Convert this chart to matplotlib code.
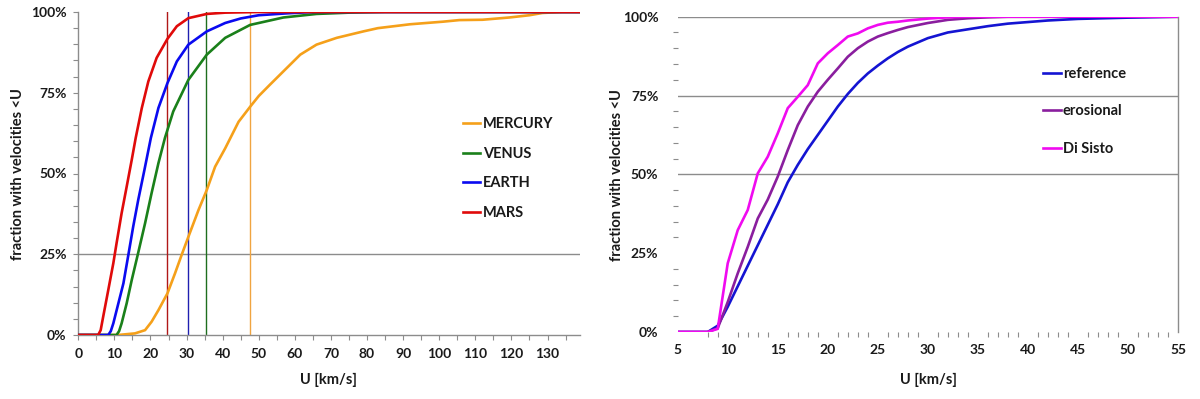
import matplotlib
matplotlib.use("Agg")
import matplotlib.pyplot as plt
from matplotlib.ticker import FixedLocator, FuncFormatter

plt.rcParams['font.family'] = ['Lato', 'DejaVu Sans']

# ---------------- left panel data ----------------
planets = ["MERCURY", "VENUS", "EARTH", "MARS"]
planet_colors = ["#F5A01A", "#1A801A", "#0A0AF0", "#E00A0A"]
mean_line_colors = ["#F0A440", "#1E6E1E", "#2020B0", "#B01818"]
mean_speeds = [47.7, 35.5, 30.5, 24.7]

mercury_u = [0, 11, 15.7, 18.5, 20.3, 22.2, 24.7, 26.8, 28.7, 30.5, 33.3, 35.6, 37.9, 40.7,
             44.4, 47.7, 50, 53.1, 56.8, 61.5, 66, 71.6, 79, 83, 91.9, 101, 105.6, 112,
             119.4, 125, 128.6, 134, 139]
mercury_p = [0, 0, 0.5, 1.5, 4.1, 7.7, 12.9, 19.1, 25, 30.4, 38.7, 44.9, 52.1, 57.8,
             66, 70.8, 74, 77.5, 81.6, 86.8, 89.9, 92, 94, 95, 96.2, 97, 97.5, 97.6,
             98.3, 99, 99.7, 100, 100]

venus_u = [0, 10.6, 11.3, 12.0, 13.4, 14.8, 16.5, 18.5, 20.3, 22.2, 24.0, 26.3, 30.5, 35.6,
           40.7, 47.6, 56.8, 66, 75, 85, 139]
venus_p = [0, 0, 1.2, 3.6, 9.8, 17, 25, 34.6, 43.9, 53.2, 61, 69.2, 79, 86.8,
           92, 96, 98.3, 99.4, 99.8, 100, 100]

earth_u = [0, 8.3, 9.0, 9.7, 11.1, 12.5, 13.9, 15.2, 16.6, 18.3, 20.1, 22.2, 24.7, 27.3,
           30.5, 35.6, 40.7, 45, 50, 58, 65, 139]
earth_p = [0, 0, 1.2, 3.6, 9.8, 16, 25, 33.5, 41.8, 51, 61, 70.3, 78, 84.7,
           89.9, 94, 96.6, 98, 99, 99.6, 100, 100]

mars_u = [0, 5.5, 6.2, 6.9, 8.3, 9.7, 10.6, 12.0, 13.4, 14.8, 15.9, 17.6, 19.4, 21.7,
          24.7, 27.3, 30.5, 35.6, 40.7, 50, 60, 139]
mars_p = [0, 0, 1.5, 5.7, 13.9, 22.2, 28.4, 37.7, 45.9, 54.2, 61, 70.3, 78.5, 85.8,
          91.7, 95.6, 98.1, 99.4, 99.8, 100, 100, 100]

planet_u = [mercury_u, venus_u, earth_u, mars_u]
planet_p = [mercury_p, venus_p, earth_p, mars_p]

# ---------------- right panel data ----------------
models = ["reference", "erosional", "Di Sisto"]
model_colors = ["#1414D2", "#8A1E9E", "#F00AF0"]
model_u = [5, 8, 9, 10, 11, 12, 13, 14, 15, 16, 17, 18, 19, 20, 21, 22, 23, 24, 25, 26, 27,
           28, 30, 32, 34, 36, 38, 40, 42, 45, 50, 55]
reference_p = [0, 0, 2, 8, 14.5, 21, 27.5, 34, 40.5, 47.5, 53, 58, 62.5, 67, 71.5, 75.5, 79,
               82, 84.5, 86.8, 88.8, 90.5, 93.2, 95, 96, 97, 97.8, 98.3, 98.8, 99.3, 99.7, 100]
erosional_p = [0, 0, 1.2, 9.5, 18.6, 27, 36, 42, 49.3, 57.7, 65.6, 71.5, 76.2, 80, 83.6, 87.3,
               90, 92.1, 93.7, 94.8, 95.8, 96.7, 98, 99, 99.5, 99.8, 100, 100, 100, 100, 100, 100]
disisto_p = [0, 0, 1, 21.8, 32.3, 38.7, 50.3, 55.6, 63, 71, 74.6, 78.3, 85.2, 88.4, 91, 93.7,
             94.7, 96.3, 97.4, 98.1, 98.4, 98.8, 99.4, 99.8, 100, 100, 100, 100, 100, 100, 100, 100]
model_p = [reference_p, erosional_p, disisto_p]

W, H = 1200, 399
fig = plt.figure(figsize=(W / 100, H / 100), dpi=100)

def fx(px):
    return px / W

def fy(py):
    return 1 - py / H

GRAY = "#8C8C8C"
TXT = "#1A1A1A"
TICK_FS = 10
LAB_FS = 10.5
LEG_FS = 10.5
pct_fmt = FuncFormatter(lambda v, p: f"{int(round(v))}%")

# ---------------- left axes ----------------
axL = fig.add_axes([fx(78.3), fy(335), fx(580) - fx(78.3), fy(12) - fy(335)])
axL.set_xlim(0, 139)
axL.set_ylim(0, 100)
axL.axhline(25, color=GRAY, lw=1.0, zorder=1)
for v, c in zip(mean_speeds, mean_line_colors):
    axL.axvline(v, color=c, lw=1.0, zorder=2)
for name, u, p, c in zip(planets, planet_u, planet_p, planet_colors):
    axL.plot(u, p, color=c, lw=1.9, label=name, zorder=3, solid_joinstyle='round')
for s in ["top", "right"]:
    axL.spines[s].set_visible(False)
for s in ["left", "bottom"]:
    axL.spines[s].set_color(GRAY)
    axL.spines[s].set_linewidth(1.0)
axL.xaxis.set_major_locator(FixedLocator(range(0, 131, 10)))
axL.xaxis.set_minor_locator(FixedLocator(range(5, 139, 10)))
axL.yaxis.set_major_locator(FixedLocator([0, 25, 50, 75, 100]))
axL.yaxis.set_minor_locator(FixedLocator([v for v in range(5, 100, 5) if v % 25]))
axL.yaxis.set_major_formatter(pct_fmt)
axL.tick_params(which="both", direction="out", length=3.5, width=0.8, color=GRAY,
                labelsize=TICK_FS, labelcolor=TXT)
axL.tick_params(axis="y", which="major", pad=5)
axL.tick_params(axis="x", which="major", pad=6)
for lab in axL.get_xticklabels() + axL.get_yticklabels():
    lab.set_fontweight("bold")

legL = axL.legend(loc="upper left", bbox_to_anchor=(fx(463), fy(117)),
                  bbox_transform=fig.transFigure, frameon=False, borderpad=0,
                  borderaxespad=0, handlelength=1.2, handletextpad=0.15,
                  labelspacing=1.08, prop={"weight": "bold", "size": LEG_FS})
for t in legL.get_texts():
    t.set_color(TXT)

fig.text(fx(18), fy(174), "fraction with velocities <U", rotation=90, ha="center",
         va="center", fontsize=LAB_FS, fontweight="bold", color=TXT)
fig.text(fx(329), fy(380), "U [km/s]", ha="center", va="center", fontsize=LAB_FS,
         fontweight="bold", color=TXT)

# ---------------- right axes ----------------
axR = fig.add_axes([fx(677.7), fy(332), fx(1178) - fx(677.7), fy(16.7) - fy(332)])
axR.set_xlim(5, 55)
axR.set_ylim(0, 100)
for g in [50, 75, 100]:
    axR.axhline(g, color=GRAY, lw=1.0, zorder=1)
for name, p, c in zip(models, model_p, model_colors):
    axR.plot(model_u, p, color=c, lw=1.9, label=name, zorder=3, solid_joinstyle='round')
for s in ["top", "left", "bottom"]:
    axR.spines[s].set_visible(False)
axR.spines["right"].set_color(GRAY)
axR.spines["right"].set_linewidth(1.0)
axR.xaxis.set_major_locator(FixedLocator(range(5, 56, 5)))
axR.xaxis.set_minor_locator(FixedLocator(range(8, 56, 1)))
axR.yaxis.set_major_locator(FixedLocator([0, 25, 50, 75, 100]))
axR.yaxis.set_minor_locator(FixedLocator([v for v in range(5, 100, 5) if v % 25]))
axR.yaxis.set_major_formatter(pct_fmt)
axR.tick_params(which="major", length=0, labelsize=TICK_FS, labelcolor=TXT)
axR.tick_params(which="minor", direction="out", length=3.5, width=0.8, color=GRAY)
axR.tick_params(axis="y", which="major", pad=14)
axR.tick_params(axis="x", which="major", pad=9)
for lab in axR.get_xticklabels() + axR.get_yticklabels():
    lab.set_fontweight("bold")

legR = axR.legend(loc="upper left", bbox_to_anchor=(fx(1043), fy(67)),
                  bbox_transform=fig.transFigure, frameon=False, borderpad=0,
                  borderaxespad=0, handlelength=1.25, handletextpad=0.1,
                  labelspacing=1.6, prop={"weight": "bold", "size": LEG_FS})
for t in legR.get_texts():
    t.set_color(TXT)

fig.text(fx(617), fy(175), "fraction with velocities <U", rotation=90, ha="center",
         va="center", fontsize=LAB_FS, fontweight="bold", color=TXT)
fig.text(fx(928), fy(380), "U [km/s]", ha="center", va="center", fontsize=LAB_FS,
         fontweight="bold", color=TXT)

fig.savefig("out.png", dpi=100, facecolor="white")
